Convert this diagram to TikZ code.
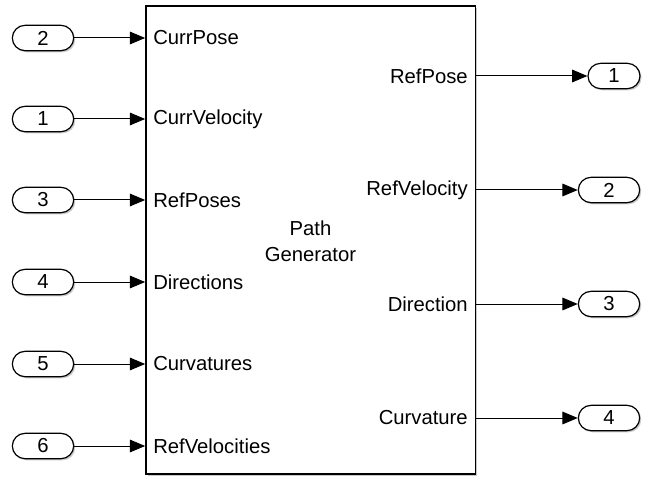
\documentclass[tikz,border=0pt]{standalone}
\usepackage{fontspec}
\setmainfont{Liberation Sans}
\usetikzlibrary{arrows.meta,shadows,shapes.misc}

\begin{document}
\begin{tikzpicture}[x=0.75pt,y=-0.75pt,
  lbl/.style={font=\fontsize{15.2}{19.5}\selectfont, inner sep=0pt},
  port/.style={draw, line width=0.9pt, rounded rectangle, minimum width=46pt,
    minimum height=19pt, inner sep=0pt, fill=white,
    drop shadow={shadow xshift=1.2pt, shadow yshift=-1.2pt, fill=black!30, opacity=0.7},
    font=\fontsize{15.2}{18}\selectfont},
  blockbox/.style={draw, line width=1pt, fill=white,
    drop shadow={shadow xshift=1.5pt, shadow yshift=-1.5pt, fill=black!30, opacity=0.7}},
  sig/.style={line width=0.75pt, -{Triangle[length=11.5pt, width=9.5pt]}}]

  \useasboundingbox (0,0) rectangle (645,477);

  % subsystem block
  \node[blockbox, minimum width=247pt, minimum height=351pt, inner sep=0pt]
    (blk) at (310.5,240) {};
  \node[lbl, align=center] (title) at (310.5,241) {Path\\Generator};

  % input ports
  \node[port] (in2) at (43,38)  {2};
  \node[port] (in1) at (43,119) {1};
  \node[port] (in3) at (43,200) {3};
  \node[port] (in4) at (43,282) {4};
  \node[port] (in5) at (43,364) {5};
  \node[port] (in6) at (43,446) {6};

  % input labels
  \node[lbl, anchor=west] (lcp) at (153,38)  {CurrPose};
  \node[lbl, anchor=west] (lcv) at (153,119) {CurrVelocity};
  \node[lbl, anchor=west] (lrp) at (153,200) {RefPoses};
  \node[lbl, anchor=west] (ldi) at (153,282) {Directions};
  \node[lbl, anchor=west] (lcu) at (153,364) {Curvatures};
  \node[lbl, anchor=west] (lrv) at (153,446) {RefVelocities};

  % output ports
  \node[port, minimum width=39pt] (out1) at (614,76)  {1};
  \node[port] (out2) at (609,190) {2};
  \node[port] (out3) at (609,304) {3};
  \node[port] (out4) at (609,418) {4};

  % output labels
  \node[lbl, anchor=east] (orp) at (468,76)  {RefPose};
  \node[lbl, anchor=east] (orv) at (468,190) {RefVelocity};
  \node[lbl, anchor=east] (odi) at (468,304) {Direction};
  \node[lbl, anchor=east] (ocu) at (468,418) {Curvature};

  % input signals
  \foreach \p in {in1,in2,in3,in4,in5,in6}
    \draw[sig] (\p.east) -- (blk.west |- \p.east);

  % output signals
  \foreach \p in {out1,out2,out3,out4}
    \draw[sig] (blk.east |- \p.west) -- (\p.west);
\end{tikzpicture}
\end{document}
